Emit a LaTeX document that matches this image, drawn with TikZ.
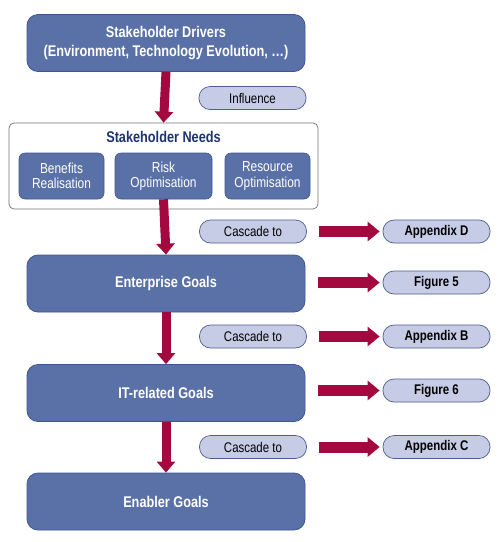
\documentclass[tikz,border=0pt]{standalone}
\usepackage{fontspec}
\setmainfont{Liberation Sans}
\newfontfamily\cond[FakeStretch=0.82]{Liberation Sans}
\usetikzlibrary{arrows.meta}
\definecolor{boxblue}{HTML}{5A71A8}
\definecolor{boxedge}{HTML}{3F5590}
\definecolor{pillfill}{HTML}{C6CCE6}
\definecolor{pilledge}{HTML}{4F5E8E}
\definecolor{arrowred}{HTML}{A3093F}
\definecolor{navy}{HTML}{1E3470}
\begin{document}
\begin{tikzpicture}[x=1pt,y=-1pt,
  bigbox/.style={draw=boxedge, line width=0.8pt, fill=boxblue, rounded corners=11pt, minimum width=278pt, minimum height=57pt, text=white, font=\cond\bfseries\fontsize{15.5}{19}\selectfont, align=center, inner sep=0pt},
  smallbox/.style={draw=boxedge, line width=0.6pt, fill=boxblue, rounded corners=6pt, minimum height=46pt, text=white, font=\cond\fontsize{14.5}{15.5}\selectfont, align=center, inner sep=0pt},
  pill/.style={draw=pilledge, line width=0.7pt, fill=pillfill, rounded corners=11pt, minimum width=107pt, minimum height=23pt, text=black, font=\cond\fontsize{14}{15}\selectfont, inner sep=0pt},
  boldpill/.style={pill, font=\cond\bfseries\fontsize{14}{15}\selectfont},
  downarrow/.style={draw=arrowred, line width=9pt, -{Triangle[width=18pt,length=11pt]}},
  rightarrow/.style={draw=arrowred, line width=11pt, -{Triangle[width=19pt,length=12pt]}}
]
\useasboundingbox (0,0) rectangle (500,542);
\fill[white] (0,0) rectangle (500,542);

\node[bigbox] (drivers) at (166,43) {Stakeholder Drivers\\(Environment, Technology Evolution, \dots)};
\node[pill] (influence) at (252.5,98) {Influence};

\node[draw=black!55, line width=0.7pt, fill=white, rounded corners=5pt, minimum width=309pt, minimum height=86pt, inner sep=0pt] (needs) at (163.5,166) {};
\node[text=navy, font=\cond\bfseries\fontsize{15.5}{17}\selectfont] (needstitle) at (163.5,137) {Stakeholder Needs};
\node[smallbox, minimum width=85pt] (benefits) at (61.5,176) {Benefits\\Realisation};
\node[smallbox, minimum width=97pt] (risk) at (163.5,176) {Risk\\Optimisation};
\node[smallbox, minimum width=85pt] (resource) at (267.5,176) {Resource\\Optimisation};

\node[pill] (cascade1) at (253,231.5) {Cascade to};
\node[boldpill] (appD) at (436.5,231.5) {Appendix D};

\node[bigbox] (enterprise) at (166,283.5) {Enterprise Goals};
\node[boldpill] (fig5) at (436.5,282.5) {Figure 5};

\node[pill] (cascade2) at (253,336.5) {Cascade to};
\node[boldpill] (appB) at (436.5,336.5) {Appendix B};

\node[bigbox] (it) at (166,393) {IT-related Goals};
\node[boldpill] (fig6) at (436.5,390.5) {Figure 6};

\node[pill] (cascade3) at (253,447) {Cascade to};
\node[boldpill] (appC) at (436.5,447) {Appendix C};

\node[bigbox] (enabler) at (166,501.5) {Enabler Goals};

% vertical arrows
\draw[downarrow] (drivers.south) -- (needs.north);
\draw[downarrow] (risk.south) -- (enterprise.north);
\draw[downarrow] (enterprise.south) -- (it.north);
\draw[downarrow] (it.south) -- (enabler.north);

% horizontal arrows
\draw[rightarrow, shorten <=12pt, shorten >=3pt] (cascade1.east) -- (appD.west);
\draw[rightarrow, shorten <=13pt, shorten >=3pt] (fig5.west -| enterprise.east) -- (fig5.west);
\draw[rightarrow, shorten <=12pt, shorten >=3pt] (cascade2.east) -- (appB.west);
\draw[rightarrow, shorten <=13pt, shorten >=3pt] (fig6.west -| it.east) -- (fig6.west);
\draw[rightarrow, shorten <=12pt, shorten >=3pt] (cascade3.east) -- (appC.west);
\end{tikzpicture}
\end{document}
